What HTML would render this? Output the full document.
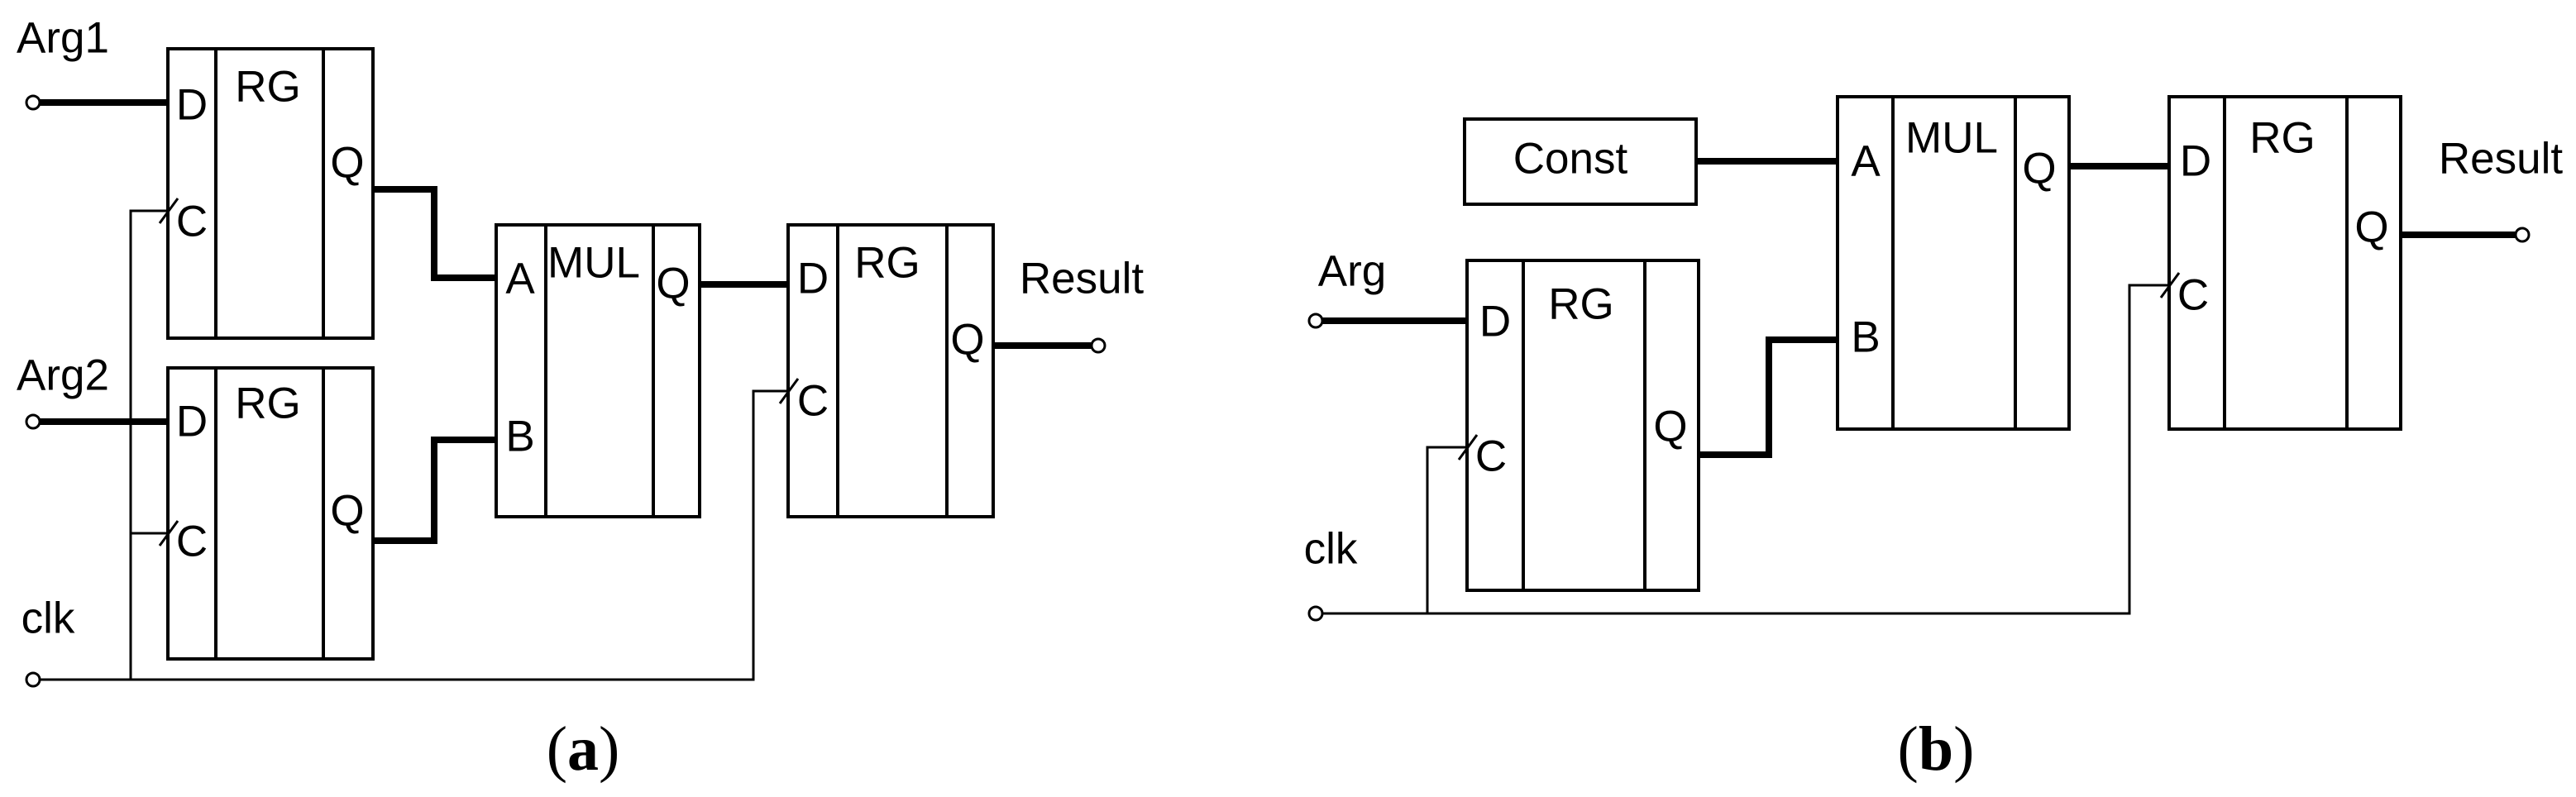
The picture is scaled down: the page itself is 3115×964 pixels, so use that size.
<!DOCTYPE html>
<html><head><meta charset="utf-8"><style>
html,body{margin:0;padding:0;background:#fff;}
svg{display:block;}
text{font-family:"Liberation Sans",Arial,sans-serif;font-size:53px;fill:#000;dominant-baseline:central;text-anchor:middle;}
.cap{font-family:"Liberation Serif",serif;font-size:76px;}
</style></head><body>
<svg width="3115" height="964" viewBox="0 0 3115 964" xmlns="http://www.w3.org/2000/svg">
<g fill="none" stroke="#000" stroke-width="4">
<rect x="203" y="59" width="248" height="350"/><line x1="261" y1="59" x2="261" y2="409"/><line x1="391" y1="59" x2="391" y2="409"/>
<rect x="203" y="445" width="248" height="352"/><line x1="261" y1="445" x2="261" y2="797"/><line x1="391" y1="445" x2="391" y2="797"/>
<rect x="600" y="272" width="246" height="353"/><line x1="660" y1="272" x2="660" y2="625"/><line x1="790" y1="272" x2="790" y2="625"/>
<rect x="953" y="272" width="248" height="353"/><line x1="1013" y1="272" x2="1013" y2="625"/><line x1="1145" y1="272" x2="1145" y2="625"/>
<polyline points="48,822 911,822 911,473 953,473" stroke-width="3"/>
<polyline points="158,822 158,255 203,255" stroke-width="3"/>
<polyline points="158,645 203,645" stroke-width="3"/>
<line x1="215" y1="240" x2="193" y2="270" stroke-width="3"/>
<line x1="215" y1="630" x2="193" y2="660" stroke-width="3"/>
<line x1="965" y1="458" x2="943" y2="488" stroke-width="3"/>
<g stroke-width="8">
<line x1="48" y1="124" x2="203" y2="124"/>
<line x1="48" y1="510" x2="203" y2="510"/>
<polyline points="451,229 525,229 525,336 600,336"/>
<polyline points="451,654 525,654 525,532 600,532"/>
<line x1="846" y1="344" x2="953" y2="344"/>
<line x1="1201" y1="418" x2="1320" y2="418"/>
</g>
<g fill="#fff" stroke-width="3">
<circle cx="40" cy="124" r="8"/><circle cx="40" cy="510" r="8"/><circle cx="40" cy="822" r="8"/><circle cx="1328" cy="418" r="8"/>
</g>
<rect x="1771" y="144" width="280" height="103"/>
<rect x="2222" y="117" width="280" height="402"/><line x1="2289" y1="117" x2="2289" y2="519"/><line x1="2437" y1="117" x2="2437" y2="519"/>
<rect x="2623" y="117" width="280" height="402"/><line x1="2690" y1="117" x2="2690" y2="519"/><line x1="2838" y1="117" x2="2838" y2="519"/>
<rect x="1774" y="315" width="280" height="399"/><line x1="1842" y1="315" x2="1842" y2="714"/><line x1="1989" y1="315" x2="1989" y2="714"/>
<polyline points="1599,742 2575,742 2575,345 2623,345" stroke-width="3"/>
<polyline points="1726,742 1726,541 1774,541" stroke-width="3"/>
<line x1="1786" y1="526" x2="1764" y2="556" stroke-width="3"/>
<line x1="2635" y1="330" x2="2613" y2="360" stroke-width="3"/>
<g stroke-width="8">
<line x1="2051" y1="195" x2="2222" y2="195"/>
<line x1="2502" y1="201" x2="2623" y2="201"/>
<line x1="1599" y1="388" x2="1774" y2="388"/>
<polyline points="2054,550 2139,550 2139,411 2222,411"/>
<line x1="2903" y1="284" x2="3042" y2="284"/>
</g>
<g fill="#fff" stroke-width="3">
<circle cx="1591" cy="388" r="8"/><circle cx="1591" cy="742" r="8"/><circle cx="3050" cy="284" r="8"/>
</g>
</g>
<text x="76" y="46">Arg1</text>
<text x="76" y="454">Arg2</text>
<text x="58" y="748">clk</text>
<text x="232" y="127">D</text><text x="324" y="105">RG</text><text x="420" y="197">Q</text><text x="232" y="268">C</text>
<text x="232" y="510">D</text><text x="324" y="488">RG</text><text x="420" y="618">Q</text><text x="232" y="655">C</text>
<text x="629" y="337">A</text><text x="718" y="318">MUL</text><text x="814" y="343">Q</text><text x="629" y="528">B</text>
<text x="983" y="337">D</text><text x="1073" y="318">RG</text><text x="1170" y="411">Q</text><text x="983" y="485">C</text>
<text x="1308" y="337">Result</text>
<text class="cap" x="705" y="906">(<tspan font-weight="bold">a</tspan>)</text>
<text x="1899" y="192">Const</text>
<text x="2256" y="195">A</text><text x="2360" y="167">MUL</text><text x="2466" y="204">Q</text><text x="2256" y="408">B</text>
<text x="2655" y="195">D</text><text x="2760" y="167">RG</text><text x="2868" y="275">Q</text><text x="2652" y="357">C</text>
<text x="3024" y="192">Result</text>
<text x="1635" y="328">Arg</text>
<text x="1808" y="389">D</text><text x="1912" y="368">RG</text><text x="2020" y="516">Q</text><text x="1803" y="552">C</text>
<text x="1609" y="664">clk</text>
<text class="cap" x="2341" y="906">(<tspan font-weight="bold">b</tspan>)</text>
</svg>
</body></html>
